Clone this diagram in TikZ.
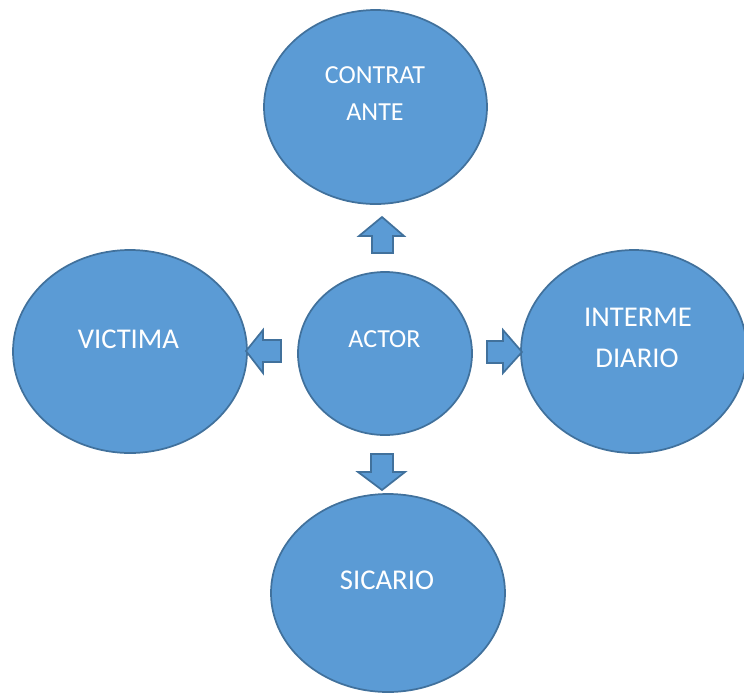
\documentclass[tikz,border=0pt]{standalone}
\usepackage{fontspec}
\setmainfont{Carlito}
\usetikzlibrary{shapes.geometric}
\definecolor{bubblefill}{HTML}{5B9BD5}
\definecolor{bubbleline}{HTML}{41719C}
\tikzset{
  bubble/.style={ellipse, draw=bubbleline, fill=bubblefill, line width=1.3pt, inner sep=0pt},
  lbl/.style={text=white, anchor=base, inner sep=0pt, font=\fontsize{21.5pt}{26pt}\selectfont},
  lblsmall/.style={lbl, font=\fontsize{19.5pt}{24pt}\selectfont},
  blockarrow/.style={draw=bubbleline, fill=bubblefill, line width=1.3pt, line join=miter}
}
\begin{document}
\begin{tikzpicture}[x=0.75pt, y=-0.75pt]
\useasboundingbox (0,0) rectangle (744,694);
\clip (0,0) rectangle (744,694);
% ellipses
\node[bubble, minimum width=167.25pt, minimum height=145.5pt] (contr) at (375.5,107) {};
\node[bubble, minimum width=175.5pt, minimum height=152.25pt] (vict) at (130,351.5) {};
\node[bubble, minimum width=130.5pt, minimum height=122.25pt] (actor) at (385,353.5) {};
\node[bubble, minimum width=169.5pt, minimum height=152.25pt] (inter) at (634,351.5) {};
\node[bubble, minimum width=175.5pt, minimum height=148.5pt] (sic) at (388,593) {};
% labels
\node[lblsmall] (t1) at (375,83) {CONTRAT};
\node[lblsmall] (t2) at (375,120) {ANTE};
\node[lbl] (t3) at (128.5,348) {VICTIMA};
\node[lblsmall] (t4) at (384.5,347) {ACTOR};
\node[lbl] (t5) at (638,326) {INTERME};
\node[lbl] (t6) at (637,367) {DIARIO};
\node[lbl] (t7) at (387,589) {SICARIO};
% block arrows
\draw[blockarrow] (382,217) -- (404,236) -- (393,236) -- (393,253) -- (372,253) -- (372,236) -- (359,236) -- cycle;
\draw[blockarrow] (246,351) -- (263,330) -- (263,340) -- (281,340) -- (281,362) -- (263,362) -- (263,373) -- cycle;
\draw[blockarrow] (487,341) -- (503,341) -- (503,330) -- (522,352) -- (503,373) -- (503,363) -- (487,363) -- cycle;
\draw[blockarrow] (371,454) -- (393,454) -- (393,472) -- (405,472) -- (382,490) -- (358,472) -- (371,472) -- cycle;
\end{tikzpicture}
\end{document}
